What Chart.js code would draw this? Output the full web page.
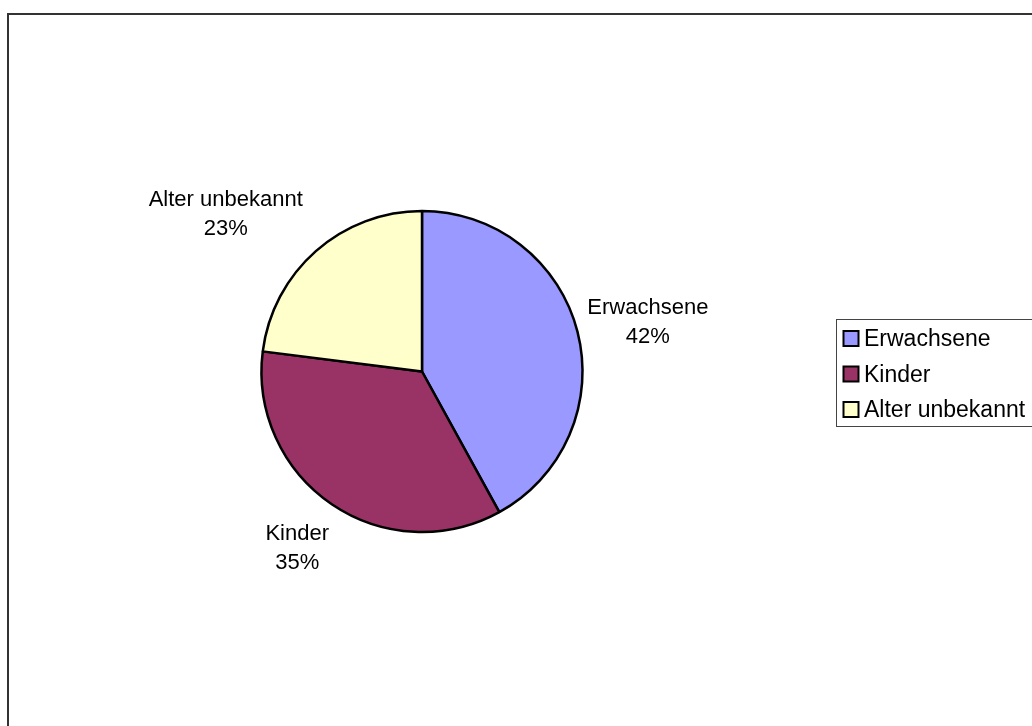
<!DOCTYPE html>
<html lang="de">
<head>
<meta charset="utf-8">
<title>Erwachsene, Kinder, Alter unbekannt</title>
<script src="https://cdn.jsdelivr.net/npm/chart.js@4.4.1/dist/chart.umd.min.js"></script>
<style>
  html, body { margin: 0; padding: 0; background: #ffffff; }
  #wrap { width: 1032px; height: 726px; position: relative; }
</style>
</head>
<body>
<div id="wrap"><canvas id="chart" width="1032" height="726"></canvas></div>
<script>
// Anteile der Gruppen in Prozent
const categories = ['Erwachsene', 'Kinder', 'Alter unbekannt'];
const shares = [42, 35, 23];
const sliceColors = ['#9999FF', '#993366', '#FFFFCC'];

// Feinverschiebung der Beschriftungen gegenüber der radialen Lage (px)
const labelNudge = [[16, 3], [-3, -4], [-53, 3.5]];

const FONT = '"Liberation Sans", Arial, Helvetica, sans-serif';

// Äußerer Rahmen der Diagrammfläche
const frame = {
  id: 'frame',
  beforeDraw(chart) {
    const ctx = chart.ctx;
    ctx.save();
    ctx.strokeStyle = '#333333';
    ctx.lineWidth = 2;
    ctx.strokeRect(8, 14, 1200, 900);
    ctx.restore();
  }
};

// Beschriftung jedes Segments: Name und Prozentwert außerhalb des Kreises
const sliceLabels = {
  id: 'sliceLabels',
  afterDatasetsDraw(chart) {
    const ctx = chart.ctx;
    const meta = chart.getDatasetMeta(0);
    const values = chart.data.datasets[0].data;
    const total = values.reduce((a, b) => a + b, 0);
    ctx.save();
    ctx.font = '22px ' + FONT;
    ctx.fillStyle = '#000000';
    ctx.textAlign = 'center';
    ctx.textBaseline = 'alphabetic';
    meta.data.forEach((arc, i) => {
      const p = arc.getProps(['x', 'y', 'startAngle', 'endAngle', 'outerRadius'], true);
      const mid = (p.startAngle + p.endAngle) / 2;
      const dist = p.outerRadius * 1.35;
      const cx = p.x + Math.cos(mid) * dist + labelNudge[i][0];
      const cy = p.y + Math.sin(mid) * dist + labelNudge[i][1];
      const pct = Math.round(values[i] / total * 100) + '%';
      ctx.fillText(chart.data.labels[i], cx, cy - 6.5);
      ctx.fillText(pct, cx, cy + 22.5);
    });
    ctx.restore();
  }
};

// Legende mit Rahmen rechts neben dem Kreis
const boxLegend = {
  id: 'boxLegend',
  afterDraw(chart) {
    const ctx = chart.ctx;
    const ds = chart.data.datasets[0];
    const left = 836, top = 319;
    ctx.save();
    ctx.strokeStyle = '#444444';
    ctx.lineWidth = 1;
    ctx.strokeRect(left + 0.5, top + 0.5, 400, 107);
    ctx.font = '23px ' + FONT;
    ctx.textBaseline = 'alphabetic';
    ctx.textAlign = 'left';
    chart.data.labels.forEach((lab, i) => {
      const rowBase = top + 27 + i * 35.5;
      ctx.fillStyle = ds.backgroundColor[i];
      ctx.fillRect(843.5, rowBase - 15, 15, 15);
      ctx.strokeStyle = '#000000';
      ctx.lineWidth = 2;
      ctx.strokeRect(843.5, rowBase - 15, 15, 15);
      ctx.fillStyle = '#000000';
      ctx.fillText(lab, 864, rowBase);
    });
    ctx.restore();
  }
};

new Chart(document.getElementById('chart'), {
  type: 'pie',
  data: {
    labels: categories,
    datasets: [{
      data: shares,
      backgroundColor: sliceColors,
      borderColor: '#000000',
      borderWidth: 2.5
    }]
  },
  options: {
    responsive: false,
    animation: false,
    radius: 160.5,
    layout: { padding: { left: 100, right: 288, top: 60, bottom: 43 } },
    plugins: {
      legend: { display: false },
      tooltip: { enabled: false },
      title: { display: false }
    }
  },
  plugins: [frame, sliceLabels, boxLegend]
});
</script>
</body>
</html>
